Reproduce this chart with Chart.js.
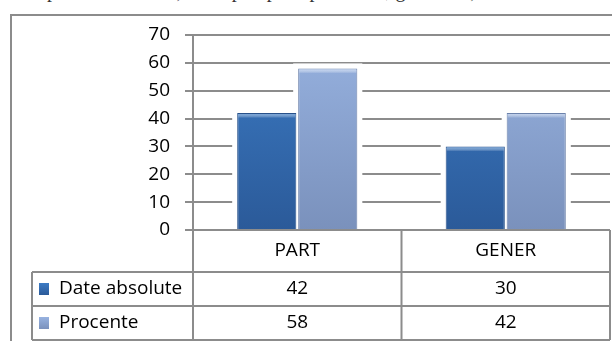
<!DOCTYPE html>
<html>
<head>
<meta charset="utf-8">
<script src="https://cdn.jsdelivr.net/npm/chart.js@4.4.1/dist/chart.umd.min.js"></script>
<style>
    html, body { margin: 0; padding: 0; background: #fff; }
    #wrap { position: relative; width: 612px; height: 341px; overflow: hidden; }
    #docline { position: absolute; left: 38px; top: -21px; font-family: "Liberation Serif", serif; font-size: 20px; color: #333; white-space: nowrap; }
    #chart { position: absolute; left: 0; top: 0; }
</style>
</head>
<body>
<div id="wrap">
    <div id="docline">apei cu elevi din școlile pe tipuri: particular, generală și clase</div>
    <canvas id="chart" width="612" height="341"></canvas>
</div>
<script>
// data
var categories = ['PART', 'GENER'];
var seriesNames = ['Date absolute', 'Procente'];
var dateAbsolute = [42, 30];
var procente = [58, 42];
var yMin = 0, yMax = 70, yStep = 10;

var lineGray = '#8c8c8c';
var fontFamily = '"Open Sans", Lato, sans-serif';
var fontSize = 19;

// bar colours: [top, bottom, border, highlight]
var darkBlue = ['#3c7bc4', '#2b5a99', '#28518a', '#6a9ed8'];
var lightBlue = ['#97b2e0', '#7a91bc', '#6c82ab', '#c3d4f0'];

function barGradient(colors) {
    return function (c) {
        var chart = c.chart;
        var area = chart.chartArea;
        if (!area) return colors[0];
        var g = chart.ctx.createLinearGradient(0, area.top, 0, area.bottom);
        g.addColorStop(0, colors[0]);
        g.addColorStop(1, colors[1]);
        return g;
    };
}

// white halo behind bars so the grid lines stop short of them
var haloPlugin = {
    id: 'halo',
    beforeDatasetsDraw: function (chart) {
        var ctx = chart.ctx;
        ctx.save();
        ctx.fillStyle = '#fff';
        chart.data.datasets.forEach(function (ds, i) {
            chart.getDatasetMeta(i).data.forEach(function (bar) {
                var p = bar.getProps(['x', 'y', 'base', 'width'], true);
                ctx.fillRect(p.x - p.width / 2 - 5, p.y - 5, p.width + 10, p.base - p.y + 4);
            });
        });
        ctx.restore();
    },
    afterDatasetsDraw: function (chart) {
        var ctx = chart.ctx;
        ctx.save();
        chart.data.datasets.forEach(function (ds, i) {
            var cols = i === 0 ? darkBlue : lightBlue;
            chart.getDatasetMeta(i).data.forEach(function (bar) {
                var p = bar.getProps(['x', 'y', 'base', 'width'], true);
                var g = ctx.createLinearGradient(0, p.y, 0, p.y + 5);
                g.addColorStop(0, cols[3]);
                g.addColorStop(1, 'rgba(255,255,255,0)');
                ctx.fillStyle = g;
                ctx.fillRect(p.x - p.width / 2 + 1, p.y + 1, p.width - 2, 5);
            });
        });
        ctx.restore();
    }
};

// data table under the plot plus the outer frame
var tablePlugin = {
    id: 'dataTable',
    afterDraw: function (chart) {
        var ctx = chart.ctx;
        var area = chart.chartArea;
        var xs = chart.scales.x;
        var catRowH = 42, rowH = 34, tableLeft = 32;
        var top = area.bottom;
        var row1 = top + catRowH;
        var row2 = row1 + rowH;
        var row3 = row2 + rowH;
        var mid = (xs.getPixelForValue(0) + xs.getPixelForValue(1)) / 2;

        ctx.save();
        ctx.strokeStyle = lineGray;
        ctx.lineWidth = 2;
        ctx.beginPath();
        // outer frame (cut at right and bottom)
        ctx.moveTo(11, 341); ctx.lineTo(11, 15); ctx.lineTo(612, 15);
        // column lines
        [area.left, mid, area.right].forEach(function (x) {
            ctx.moveTo(x, top); ctx.lineTo(x, row3);
        });
        ctx.moveTo(tableLeft, row1); ctx.lineTo(tableLeft, row3);
        [row1, row2, row3].forEach(function (y) {
            ctx.moveTo(tableLeft, y); ctx.lineTo(area.right, y);
        });
        ctx.stroke();

        ctx.fillStyle = '#000';
        ctx.font = fontSize + 'px ' + fontFamily;
        ctx.textAlign = 'center';
        ctx.textBaseline = 'middle';
        categories.forEach(function (cat, i) {
            var cx = xs.getPixelForValue(i);
            ctx.fillText(cat, cx, top + catRowH / 2);
            ctx.fillText(String(dateAbsolute[i]), cx, row1 + rowH / 2);
            ctx.fillText(String(procente[i]), cx, row2 + rowH / 2);
        });

        ctx.textAlign = 'left';
        [darkBlue, lightBlue].forEach(function (cols, i) {
            var cy = row1 + rowH * i + rowH / 2;
            var g = ctx.createLinearGradient(0, cy - 6, 0, cy + 6);
            g.addColorStop(0, cols[0]);
            g.addColorStop(1, cols[1]);
            ctx.fillStyle = g;
            ctx.fillRect(39, cy - 6, 10, 12);
            ctx.fillStyle = '#000';
            ctx.fillText(seriesNames[i], 59, cy);
        });
        ctx.restore();
    }
};

new Chart(document.getElementById('chart').getContext('2d'), {
    type: 'bar',
    data: {
        labels: categories,
        datasets: [
            { label: seriesNames[0], data: dateAbsolute, backgroundColor: barGradient(darkBlue), borderColor: darkBlue[2], borderWidth: 1, categoryPercentage: 0.585, barPercentage: 0.97 },
            { label: seriesNames[1], data: procente, backgroundColor: barGradient(lightBlue), borderColor: lightBlue[2], borderWidth: 1, categoryPercentage: 0.585, barPercentage: 0.97 }
        ]
    },
    options: {
        responsive: false,
        animation: false,
        devicePixelRatio: 1,
        layout: { padding: { top: 35, right: 2, left: 0, bottom: 0 } },
        plugins: { legend: { display: false }, tooltip: { enabled: false } },
        scales: {
            x: {
                grid: { display: false },
                border: { display: false },
                ticks: { display: false },
                afterFit: function (s) { s.height = 111; }
            },
            y: {
                min: yMin,
                max: yMax,
                ticks: { stepSize: yStep, color: '#000', padding: 15, font: { family: fontFamily, size: fontSize } },
                grid: { color: lineGray, lineWidth: 2, tickLength: 8 },
                border: { color: lineGray, width: 2 },
                afterFit: function (s) { s.width = 193; }
            }
        }
    },
    plugins: [haloPlugin, tablePlugin]
});
</script>
</body>
</html>
